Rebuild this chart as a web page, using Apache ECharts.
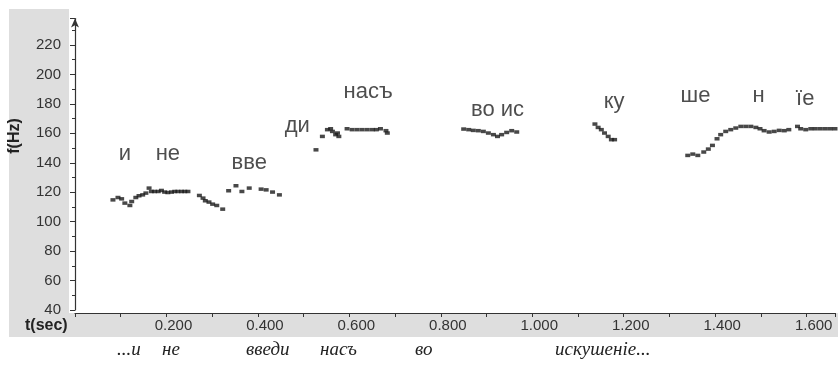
<!DOCTYPE html>
<html>
<head>
<meta charset="utf-8">
<script src="https://cdn.jsdelivr.net/npm/echarts@6/dist/echarts.min.js"></script>
<style>
html,body{margin:0;padding:0;background:#fff;}
#c{width:838px;height:372px;}
</style>
</head>
<body>
<div id="c"></div>
<script>
// ---- data ----
const timeSec = [
  0.083,0.094,0.102,0.109,0.120,0.124,0.133,0.140,0.148,0.155,0.162,0.167,0.174,0.182,0.189,0.196,0.203,0.211,0.218,0.225,0.233,0.240,0.247,
  0.272,0.280,0.285,0.293,0.301,0.310,0.323,
  0.336,0.352,0.365,0.381,0.407,0.418,0.432,0.447,
  0.527,0.541,0.552,0.559,0.563,0.570,0.574,0.577,0.595,0.606,0.617,0.628,0.639,0.650,0.659,0.668,0.680,0.683,
  0.850,0.861,0.871,0.882,0.893,0.904,0.915,0.924,0.933,0.944,0.955,0.966,
  1.137,1.144,1.151,1.158,1.166,1.173,1.180,
  1.340,1.351,1.362,1.375,1.385,1.394,1.404,1.412,1.423,1.434,1.445,1.456,1.467,1.478,1.489,1.498,1.507,1.518,1.529,1.540,1.551,1.561,
  1.580,1.587,1.598,1.609,1.619,1.630,1.641,1.652,1.662
];
const pitchHz = [
  114.8,116.4,115.5,112.6,111.0,113.7,116.4,117.6,118.2,119.4,122.8,120.5,120.5,120.5,121.2,120.1,119.8,120.1,120.5,120.5,120.5,120.5,120.5,
  117.8,116.0,114.2,113.3,111.9,111.0,108.5,
  121.0,124.4,120.5,122.8,122.1,121.6,120.1,118.2,
  148.8,157.9,162.5,163.1,161.3,159.1,160.2,157.9,163.1,162.5,162.5,162.5,162.5,162.5,162.5,163.1,161.8,160.2,
  162.9,162.5,162.0,161.8,161.3,160.2,159.1,157.9,159.1,160.6,161.8,160.9,
  166.3,164.0,162.5,160.2,157.9,155.7,155.7,
  145.0,145.9,145.0,147.3,149.3,151.8,156.3,159.1,161.3,162.5,163.6,164.7,164.7,164.7,164.0,163.1,161.8,160.9,161.3,162.0,161.8,162.5,
  164.7,163.1,162.5,163.1,163.1,163.1,163.1,163.1,163.1
];
const syllables  = ['и','не','вве','ди','насъ','во ис','ку','ше','н','їе'];
const syllableT  = [0.109,0.203,0.381,0.486,0.641,0.924,1.179,1.357,1.495,1.597];
const syllableHz = [146.0,146.0,140.0,165.0,188.0,176.0,181.0,185.5,185.5,183.5];
const xTicks = [0.2,0.4,0.6,0.8,1.0,1.2,1.4,1.6];
const yTicks = [40,60,80,100,120,140,160,180,200,220];
const bottomWords = ['...и','не','введи','насъ','во','искушеніе...'];
const bottomX = [117,162,246,320,415,555];

// ---- chart ----
const chart = echarts.init(document.getElementById('c'), null, {renderer:'canvas'});
const pts = timeSec.map((t,i)=>[t,pitchHz[i]]);
const syl = syllables.map((s,i)=>({value:[syllableT[i],syllableHz[i]], name:s}));

const graphics = [
  {type:'rect', z:-10, silent:true, shape:{x:9,y:9,width:829,height:328}, style:{fill:'#dedede'}},
  {type:'rect', z:-9, silent:true, shape:{x:69,y:9,width:769,height:304}, style:{fill:'#ffffff'}},
  {type:'text', left:25, top:318, style:{text:'t(sec)', font:'bold 16px "Liberation Sans", Arial, sans-serif', fill:'#222'}},
  {type:'text', x:15, y:136, rotation:Math.PI/2, style:{text:'f(Hz)', font:'bold 16px "Liberation Sans", Arial, sans-serif', fill:'#222', align:'center', verticalAlign:'middle'}}
];
bottomWords.forEach((w,i)=>{
  graphics.push({type:'text', x:bottomX[i], y:350, style:{text:w, font:'italic 19px "Liberation Serif", "DejaVu Serif", serif', fill:'#222', verticalAlign:'middle'}});
});

chart.setOption({
  backgroundColor:'#ffffff',
  animation:false,
  graphic: graphics,
  grid:{left:75, right:0, top:18.5, bottom:62, containLabel:false},
  xAxis:{
    type:'value', min:0, max:1.662, interval:0.2, offset:3,
    axisLine:{show:true, lineStyle:{color:'#333', width:1.2}},
    axisTick:{show:true, length:4, inside:false, lineStyle:{color:'#333'}},
    minorTick:{show:true, splitNumber:2, length:4, lineStyle:{color:'#333'}},
    splitLine:{show:false}, minorSplitLine:{show:false},
    axisLabel:{
      margin:5, color:'#333', fontSize:15, fontFamily:'"Liberation Sans", Arial, sans-serif',
      padding:[0,0,0,14],
      formatter:(v)=> xTicks.some(t=>Math.abs(t-v)<1e-6) ? v.toFixed(3) : ''
    }
  },
  yAxis:{
    type:'value', min:40, max:238, interval:20, offset:6,
    axisLine:{show:true, symbol:['none','arrow'], symbolSize:[6,9], lineStyle:{color:'#333', width:1.2}},
    axisTick:{show:true, length:5, lineStyle:{color:'#333'}},
    minorTick:{show:true, splitNumber:2, length:3, lineStyle:{color:'#333'}},
    splitLine:{show:false}, minorSplitLine:{show:false},
    axisLabel:{
      margin:8, color:'#333', fontSize:15, fontFamily:'"Liberation Sans", Arial, sans-serif',
      formatter:(v)=> yTicks.indexOf(v)>=0 ? String(v) : ''
    }
  },
  series:[
    {type:'scatter', data:pts, symbol:'rect', symbolSize:[5,3.5], itemStyle:{color:'#1a1a1a'}, silent:true},
    {type:'scatter', data:syl, symbolSize:0, silent:true,
     label:{show:true, position:'inside', formatter:(p)=>p.name, color:'#222', fontSize:22,
            fontFamily:'"Liberation Sans", Arial, sans-serif'}}
  ]
});
</script>
</body>
</html>
